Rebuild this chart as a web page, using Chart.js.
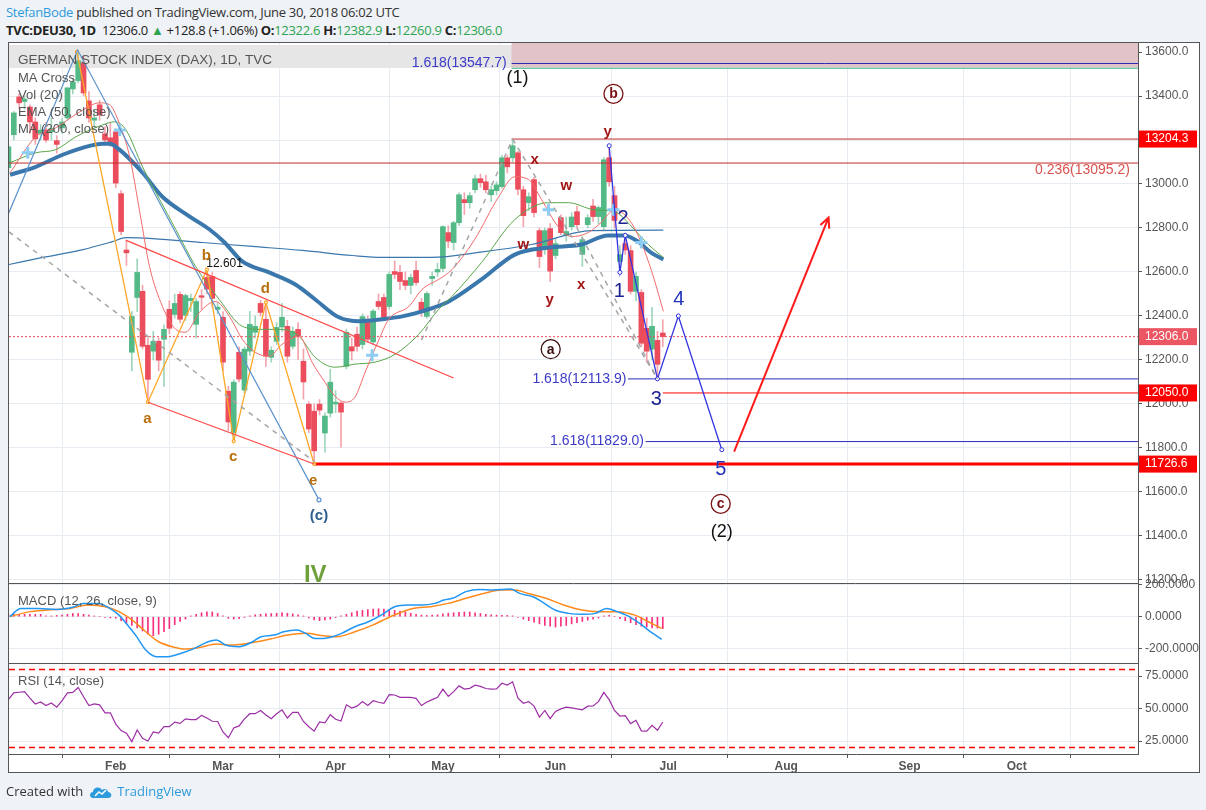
<!DOCTYPE html>
<html lang="en">
<head>
<meta charset="utf-8">
<title>DEU30 1D - StefanBode</title>
<script src="https://cdn.jsdelivr.net/npm/chart.js@4.4.1/dist/chart.umd.min.js"></script>
<style>
  html, body { margin: 0; padding: 0; }
  body { background: #eff2f6; width: 1206px; height: 810px; overflow: hidden; position: relative;
         font-family: "Open Sans", "Liberation Sans", sans-serif; }
  #chart { position: absolute; left: 0; top: 0; }
  .top1 { position: absolute; left: 6px; top: 3px; font-size: 13px; letter-spacing: -0.3px; color: #333; white-space: nowrap; }
  .top2 { position: absolute; left: 6px; top: 21px; font-size: 13px; letter-spacing: -0.3px; color: #222; white-space: nowrap; }
  .user { color: #2e9bdc; }
  .g { color: #2ea44f; }
  .foot { position: absolute; left: 6px; top: 782px; font-size: 13px; color: #333; white-space: nowrap; }
  .foot svg { vertical-align: -3px; margin: 0 4px 0 6px; }
  .tv { color: #2e9bdc; }
</style>
</head>
<body>
<div class="top1"><span class="user">StefanBode</span> published on TradingView.com, June 30, 2018 06:02 UTC</div>
<div class="top2"><b>TVC:DEU30, 1D</b>&nbsp; 12306.0 <span class="g">&#9650;</span> +128.8 (+1.06%) <b>O:</b><span class="g">12322.6</span> <b>H:</b><span class="g">12382.9</span> <b>L:</b><span class="g">12260.9</span> <b>C:</b><span class="g">12306.0</span></div>
<canvas id="chart" width="1206" height="810"></canvas>
<div class="foot">Created with<svg width="24" height="14" viewBox="0 0 24 14"><path d="M4 13 C0 13 0 7 4 7 C4 2 11 1 13 5 C15 3 19 4 19 7 C23 7 24 13 19 13 Z" fill="#2e9bdc"/><path d="M6 11 L10 7 L13 9 L17 5" stroke="#fff" stroke-width="1.5" fill="none"/></svg><span class="tv">TradingView</span></div>

<script>
// ---- data (bar 0 = Feb 1 2018, one bar per trading day) ----
var firstBar = -20;
var dates = ['Jan 4','Jan 5','Jan 8','Jan 9','Jan 10','Jan 11','Jan 12','Jan 15','Jan 16','Jan 17','Jan 18','Jan 19','Jan 22','Jan 23','Jan 24','Jan 25','Jan 26','Jan 29','Jan 30','Jan 31',
  'Feb 1','Feb 2','Feb 5','Feb 6','Feb 7','Feb 8','Feb 9','Feb 12','Feb 13','Feb 14','Feb 15','Feb 16','Feb 19','Feb 20','Feb 21','Feb 22','Feb 23','Feb 26','Feb 27','Feb 28',
  'Mar 1','Mar 2','Mar 5','Mar 6','Mar 7','Mar 8','Mar 9','Mar 12','Mar 13','Mar 14','Mar 15','Mar 16','Mar 19','Mar 20','Mar 21','Mar 22','Mar 23','Mar 26','Mar 27','Mar 28','Mar 29',
  'Apr 3','Apr 4','Apr 5','Apr 6','Apr 9','Apr 10','Apr 11','Apr 12','Apr 13','Apr 16','Apr 17','Apr 18','Apr 19','Apr 20','Apr 23','Apr 24','Apr 25','Apr 26','Apr 27','Apr 30',
  'May 2','May 3','May 4','May 7','May 8','May 9','May 10','May 11','May 14','May 15','May 16','May 17','May 18','May 22','May 23','May 24','May 25','May 28','May 29','May 30','May 31',
  'Jun 1','Jun 4','Jun 5','Jun 6','Jun 7','Jun 8','Jun 11','Jun 12','Jun 13','Jun 14','Jun 15','Jun 18','Jun 19','Jun 20','Jun 21','Jun 22','Jun 25','Jun 26','Jun 27','Jun 28','Jun 29'];

var opens = [13074,13224,13396,13375,13350,13282,13230,13246,13237,13197,13255,13300,13432,13470,13550,13378,13290,13360,13228,13210,
  13237,12956,12700,12235,12484,12512,12267,12240,12285,12294,12430,12407,12498,12403,12470,12362,12492,12575,12580,12430,
  12394,12058,11870,12235,12063,12240,12326,12457,12385,12212,12285,12350,12353,12262,12339,12194,11999,11967,11999,11868,11958,
  12000,12004,12171,12260,12317,12270,12376,12282,12466,12484,12443,12602,12598,12561,12539,12607,12462,12398,12570,12600,
  12616,12779,12734,12824,12929,12915,12974,13024,13010,12951,12970,12988,13119,13119,13142,12974,12915,13020,12788,12702,12797,
  12675,12847,12766,12806,12874,12680,12815,12900,12852,12806,13119,12947,12648,12729,12697,12512,12507,12344,12249,12289,12322.6];
var highs = [13180,13330,13410,13400,13360,13300,13270,13280,13300,13220,13300,13440,13480,13600,13580,13420,13340,13380,13260,13280,
  13250,12970,12740,12420,12660,12540,12300,12330,12300,12360,12470,12500,12510,12500,12500,12480,12520,12611,12600,12460,
  12420,12080,12110,12260,12260,12421,12400,12470,12462,12260,12370,12457,12380,12350,12370,12250,12010,12000,12020,11960,12158,
  12060,12010,12340,12300,12350,12410,12400,12430,12500,12500,12600,12650,12630,12600,12590,12650,12480,12510,12600,12640,
  12810,12810,12830,12960,12960,12960,13040,13045,13040,12990,13010,13130,13130,13204,13150,12990,12960,13030,12800,12800,12820,
  12750,12860,12850,12870,12900,12760,12860,12930,12900,13120,13178,12990,12720,12766,12720,12600,12520,12390,12439,12330,12382.9];
var lows = [13050,13200,13340,13340,13230,13180,13200,13190,13200,13140,13230,13290,13410,13460,13400,13280,13260,13290,13180,13170,
  12983,12770,12630,12150,12420,12250,12008,12200,12150,12080,12320,12390,12370,12380,12420,12300,12430,12500,12440,12410,
  12150,11877,11831,12100,12050,12220,12300,12400,12171,12190,12270,12330,12190,12250,12203,12022,11870,11727,11950,11781,11940,
  11960,11804,12160,12200,12240,12250,12280,12270,12430,12380,12430,12570,12520,12520,12500,12540,12398,12390,12540,12580,
  12600,12711,12700,12810,12861,12890,12960,12985,12960,12920,12950,12980,13050,13100,12950,12806,12880,12850,12620,12680,12557,
  12660,12770,12740,12790,12800,12625,12800,12830,12820,12790,12990,12800,12598,12680,12500,12470,12260,12190,12200,12114,12260.9];
var closes = [13169,13323,13369,13386,13282,13205,13245,13200,13252,13180,13282,13437,13464,13560,13414,13300,13300,13314,13200,13189,
  13004,12784,12687,12398,12598,12262,12112,12285,12199,12339,12344,12457,12385,12493,12480,12466,12485,12522,12480,12440,
  12190,11918,12099,12113,12249,12362,12353,12416,12217,12244,12348,12394,12217,12330,12309,12100,11886,11787,11972,11945,12099,
  12008,11963,12326,12241,12262,12397,12294,12422,12443,12394,12589,12589,12557,12539,12575,12552,12421,12502,12580,12611,
  12806,12740,12824,12951,12915,12947,13024,13006,12974,12974,12996,13119,13078,13174,12976,12856,12942,12870,12670,12788,12604,
  12729,12779,12784,12850,12815,12747,12847,12852,12893,13110,13010,12834,12679,12700,12512,12580,12276,12240,12353,12180,12306.0];

// moving averages: [bar, price]
var maFast = [[-19.7,13051],[-14.9,13215],[-11.2,13255],[-6.7,13328],[-3.0,13369],[-1.1,13360],[0.4,13292],[2.6,13124],[4.5,12870],[6.3,12625],[8.7,12444],[11.2,12339],[13.0,12326],[15.6,12416],[18.6,12466],[21.2,12398],[23.6,12294],[26.0,12235],[28.6,12217],[31.0,12271],[34.2,12307],[36.6,12190],[39.0,12099],[40.9,12035],[42.8,12008],[44.6,12031],[46.5,12144],[49.1,12294],[50.9,12385],[54.7,12444],[57.1,12521],[60.2,12566],[62.7,12611],[66.9,12747],[71.4,12942],[74.4,13033],[77.0,13020],[79.4,12929],[82.5,12806],[85.0,12761],[88.1,12779],[90.5,12825],[93.0,12883],[96.1,12825],[98.5,12702],[100.4,12566],[102.1,12421]];
var emaMid = [[-19.7,13097],[-14.9,13142],[-11.2,13156],[-7.4,13215],[-2.4,13269],[-0.2,13283],[1.9,13246],[5.0,13078],[8.2,12929],[11.2,12793],[14.9,12625],[19.3,12475],[23.6,12353],[27.3,12339],[31.0,12339],[34.2,12307],[37.2,12212],[40.9,12167],[44.6,12181],[48.3,12190],[52.1,12226],[56.5,12317],[60.2,12430],[62.7,12489],[68.2,12643],[74.4,12838],[80.7,12915],[84.4,12915],[89.2,12883],[93.0,12874],[96.7,12793],[99.3,12725],[102.1,12666]];
var ma50 = [[-19.7,13042],[-14.9,13078],[-9.9,13133],[-5.6,13169],[-2.4,13183],[-1.1,13183],[0.7,13156],[5.0,13051],[8.7,12942],[13.8,12852],[17.5,12793],[20.3,12734],[23.6,12648],[28.6,12598],[33.5,12543],[37.2,12475],[41.6,12394],[45.4,12376],[49.6,12385],[53.4,12398],[57.1,12421],[62.1,12466],[68.2,12566],[74.4,12679],[80.7,12711],[86.8,12725],[91.8,12766],[94.8,12766],[97.4,12738],[99.8,12688],[102.1,12657]];
var ma200 = [[-19.9,12634],[-13.6,12666],[-6.1,12702],[-0.6,12738],[1.9,12756],[6.9,12752],[16.2,12734],[25.5,12716],[34.8,12698],[44.1,12675],[49.6,12666],[58.9,12666],[68,12690],[77.5,12725],[88.7,12788],[102.1,12790]];
var maCrosses = [[-16.4,13142],[0.74,13246],[47.8,12221],[80.7,12883],[92.8,12883],[98.0,12734]];

// MACD (12, 26, close, 9)
var macdLine = [[-19.75,0],[-17.7,52],[-14.4,52],[-11,46],[-7.7,63],[-6.1,84],[-3.2,84],[-1.1,52],[0.6,10],[2.2,-52],[3.9,-126],[5.6,-210],[7.6,-252],[9.7,-252],[12.2,-231],[14.7,-200],[17.2,-158],[18.8,-147],[20.5,-179],[23,-189],[25.5,-158],[27.1,-126],[29.6,-116],[31.3,-95],[33.8,-84],[35.4,-105],[37.1,-137],[38.8,-137],[40.4,-126],[42.1,-105],[44.6,-63],[47.1,-32],[49.5,10],[52,63],[54.5,74],[57,74],[59.5,84],[61.2,105],[62.8,116],[65.3,158],[67.8,172],[70.3,168],[73.6,174],[75.3,147],[77.8,126],[79.4,95],[81.9,42],[84.4,21],[86.9,15],[89.4,21],[91.5,52],[93.5,32],[95.2,10],[97.7,-42],[99.3,-84],[101.8,-143]];
var signalLine = [[-19.75,0],[-16,32],[-12.7,42],[-8.5,52],[-5.2,74],[-1.9,63],[0.6,32],[3.1,-21],[5.6,-95],[8,-158],[10.5,-189],[13,-204],[15.5,-195],[18.8,-172],[21.3,-179],[24.6,-168],[28.8,-141],[32.1,-116],[35.4,-105],[38.8,-120],[41.2,-126],[44.6,-95],[47.9,-53],[51.2,0],[55.4,52],[58.7,63],[62,84],[65.3,116],[68.6,147],[72,168],[74.4,168],[76.9,147],[80.2,116],[83.5,74],[86.9,42],[90.2,32],[93.5,32],[96.8,10],[99.3,-32],[101.8,-74]];
var macdHist = [15,15,15,15,15,15,15,5,5,8,10,15,20,20,15,10,5,0,-5,-8,
  -10,-25,-40,-55,-70,-90,-110,-120,-110,-95,-75,-50,-30,-15,5,15,25,30,30,20,
  5,-10,-15,-12,-5,5,12,15,18,20,22,25,22,18,12,5,-8,-20,-25,-20,-15,
  -5,5,15,25,35,40,45,48,50,48,45,40,35,30,22,15,10,8,10,12,
  18,22,25,28,30,30,25,20,15,12,10,8,8,5,-5,-15,-25,-35,-45,-55,-60,
  -65,-60,-55,-45,-38,-30,-22,-15,-8,5,8,0,-12,-25,-38,-50,-60,-65,-70,-72,-75];

// RSI (14, close)
var rsi = [57,62,62.5,63,58,53.5,55,52.3,54.3,51,56,62,62.4,66.2,59,52.3,53.5,52.8,46.7,46.7,
  38,33,31,24.5,33.5,27,25,32,31,36,36,39.5,38.5,42,41.5,41.5,44.7,42.7,40.2,40,
  32,27.5,35,36.6,42,46,46,48.5,45,42.2,46,49,42.7,47,47,40,36,32.6,39.6,39,45.2,
  41.7,40.4,52.8,50.3,51.8,55.3,52.3,56,54.8,54,60.6,60.4,58.6,58.6,58.5,57.8,52.3,55,56.8,58.6,
  64.9,59.3,63,67.4,64.9,65.5,67.9,67,65.4,64.9,65,69.4,68,70.5,58,54,55.3,51.8,43.4,48.5,42.2,
  47.7,49.7,51,50.5,49.7,49,51.8,52,55.3,62.4,56.8,48.5,44.2,44.5,38.4,40.9,32.8,32.6,37.1,33.3,39.6];

// axis ticks
var monthTicks = [{label:'Feb', bar:0},{label:'Mar', bar:20},{label:'Apr', bar:41},{label:'May', bar:61},{label:'Jun', bar:82},{label:'Jul', bar:103},{label:'Aug', bar:125},{label:'Sep', bar:148},{label:'Oct', bar:168}];
var priceTicks = [11200,11400,11600,11800,12000,12200,12400,12600,12800,13000,13200,13400,13600];
var macdTicks = [-200,0,200];
var rsiTicks = [25,50,75];
var rsiBands = [80,20];

// wave drawings: [bar, price]
var orangeWave = [[-7.25,13601],[6,12008],[17,12611],[22,11831],[28,12462],[37,11727]];
var channelTop = [[1.86,12745],[63,12118]];
var channelBottom = [[6,12008],[37,11727]];
var blueC = [[-22,12750],[-7.1,13609],[37.9,11564]];
var dashA = [[-19.9,12782],[37,11738]];
var dashB = [[57,12290],[74,13204]];
var dashC = [[74,13204],[101,12114]];
var dashD = [[86,12800],[101,12114]];
var impulse = [[92,13174],[94,12598],[95,12766],[101,12114],[104.9,12400],[113,11792]];
var arrowUp = [[115.3,11783],[132.9,12847]];

// horizontal levels: [startBar, price]
var fib236 = [-19.9, 13095.2];
var highLevel = [73.8, 13204.3];
var fibTop = [73.8, 13547.7];
var greenTop = [73.8, 13526];
var fib3 = [95.5, 12113.9];
var fib5 = [98.8, 11829.0];
var level12050 = [102, 12050.0];
var lowLevel = [37, 11726.6];
var lastClose = 12306.0;
var zoneTop = [73.8, 13530];

var xMin = -19.9, xMax = 190.6;

// ---- build datasets ----
function pts(arr) { return arr.map(function(p) { return {x: p[0], y: p[1]}; }); }
function hline(lv, color, width, dash) {
  return {type:'line', data:[{x:lv[0], y:lv[1]},{x:xMax, y:lv[1]}], borderColor:color, borderWidth:width||1,
    borderDash:dash||[], pointRadius:0, yAxisID:'y', order:12};
}
function drawLine(arr, color, width, dash, extra) {
  var d = {type:'line', data:pts(arr), borderColor:color, borderWidth:width, borderDash:dash||[], pointRadius:0,
    tension:0, yAxisID:'y', order:5};
  for (var k in extra) d[k] = extra[k];
  return d;
}
function maLine(arr, color, width, order) {
  return {type:'line', data:pts(arr), borderColor:color, borderWidth:width, pointRadius:0,
    cubicInterpolationMode:'monotone', yAxisID:'y', order:order};
}

var wicks = [], bodies = [], wickCol = [], bodyCol = [], histData = [], rsiData = [];
for (var i = 0; i < closes.length; i++) {
  var bx = firstBar + i;
  var up = closes[i] >= opens[i];
  wicks.push({x: bx, y: [lows[i], highs[i]]});
  bodies.push({x: bx, y: [opens[i], closes[i]]});
  wickCol.push(up ? '#9fd6bb' : '#f3a3ab');
  bodyCol.push(up ? '#53b987' : '#eb4d5c');
  histData.push({x: bx, y: macdHist[i]});
  rsiData.push({x: bx, y: rsi[i]});
}

var datasets = [
  {type:'bar', data:wicks, backgroundColor:wickCol, barThickness:1, grouped:false, yAxisID:'y', order:30},
  {type:'bar', data:bodies, backgroundColor:bodyCol, barThickness:5, grouped:false, minBarLength:1, yAxisID:'y', order:29},
  maLine(ma200, '#3a77ad', 1.2, 20),
  maLine(ma50, '#3a77ad', 4, 19),
  maLine(emaMid, '#5aa84a', 1, 18),
  maLine(maFast, '#f26b6b', 1, 17),
  {type:'line', data:pts(maCrosses), showLine:false, pointStyle:'cross', pointRadius:6, pointBorderWidth:3,
    pointBorderColor:'#8ecdf3', yAxisID:'y', order:16},
  hline([xMin, lastClose], '#eb4d5c', 1, [2, 2]),
  hline(fib236, '#c42b2b', 1),
  hline(highLevel, '#c42b2b', 1),
  hline(greenTop, '#3fbf8f', 1),
  hline(fibTop, '#2b2bb8', 1),
  hline(fib3, '#2b2bb8', 1),
  hline(fib5, '#2b2bb8', 1),
  hline(level12050, '#ff0000', 1),
  hline(lowLevel, '#ff0000', 3),
  drawLine(dashA, '#a5a5a5', 1.5, [5, 5]),
  drawLine(dashB, '#a5a5a5', 1.5, [5, 5]),
  drawLine(dashC, '#a5a5a5', 1.5, [5, 5]),
  drawLine(dashD, '#a5a5a5', 1.5, [5, 5]),
  drawLine(channelTop, '#ff4747', 1.2),
  drawLine(channelBottom, '#ff4747', 1.2),
  drawLine(blueC, '#5b93cc', 1.2, [], {pointRadius:[0,0,2], pointBackgroundColor:'#fff', pointBorderColor:'#5b93cc'}),
  drawLine(orangeWave, '#ffa726', 1.3, [], {pointRadius:1.5, pointBackgroundColor:'#fff', pointBorderColor:'#ffa726'}),
  drawLine(impulse, '#3434e0', 1.3, [], {pointRadius:2, pointBackgroundColor:'#fff', pointBorderColor:'#3434e0', pointBorderWidth:1}),
  drawLine(arrowUp, '#ff1a1a', 2),
  {type:'bar', data:histData, backgroundColor:'#f7307e', barThickness:1, grouped:false, yAxisID:'macd', order:8},
  {type:'line', data:pts(signalLine), borderColor:'#ff8a1c', borderWidth:1.5, pointRadius:0, cubicInterpolationMode:'monotone', yAxisID:'macd', order:7},
  {type:'line', data:pts(macdLine), borderColor:'#2196f3', borderWidth:1.5, pointRadius:0, cubicInterpolationMode:'monotone', yAxisID:'macd', order:6},
  {type:'line', data:rsiData, borderColor:'#9c2fa5', borderWidth:1.2, pointRadius:0, tension:0, yAxisID:'rsi', order:6},
  {type:'line', data:[{x:xMin, y:rsiBands[0]},{x:xMax, y:rsiBands[0]}], borderColor:'#ff0000', backgroundColor:'#ff0000', borderWidth:1.5, borderDash:[6,4], pointRadius:0, yAxisID:'rsi', order:4},
  {type:'line', data:[{x:xMin, y:rsiBands[1]},{x:xMax, y:rsiBands[1]}], borderColor:'#ff0000', backgroundColor:'#ff0000', borderWidth:1.5, borderDash:[6,4], pointRadius:0, yAxisID:'rsi', order:4}
];

// ---- text annotations ----
var LS = '"Liberation Sans", Arial, sans-serif';
var waveLabels = [
  {t:'(1)', bar:74.9, p:13482, c:'#111', f:'18px ' + LS},
  {t:'(2)', bar:113, p:11419, c:'#111', f:'18px ' + LS},
  {t:'y', bar:91.7, p:13237, c:'#a31515', f:'bold 15px ' + LS},
  {t:'x', bar:78.1, p:13110, c:'#a31515', f:'bold 15px ' + LS},
  {t:'w', bar:84.0, p:12992, c:'#a31515', f:'bold 15px ' + LS},
  {t:'w', bar:76.0, p:12725, c:'#a31515', f:'bold 15px ' + LS},
  {t:'y', bar:80.9, p:12475, c:'#a31515', f:'bold 15px ' + LS},
  {t:'x', bar:86.8, p:12543, c:'#a31515', f:'bold 15px ' + LS},
  {t:'2', bar:94.6, p:12843, c:'#1c2390', f:'20px ' + LS},
  {t:'1', bar:93.9, p:12512, c:'#1c2390', f:'20px ' + LS},
  {t:'3', bar:100.8, p:12022, c:'#1c2390', f:'20px ' + LS},
  {t:'4', bar:105.0, p:12475, c:'#2233bb', f:'20px ' + LS},
  {t:'5', bar:112.8, p:11704, c:'#2233bb', f:'20px ' + LS},
  {t:'(c)', bar:37.9, p:11491, c:'#2f5f8f', f:'bold 15px ' + LS},
  {t:'IV', bar:37.2, p:11219, c:'#6fa03c', f:'bold 24px ' + LS},
  {t:'12.601', bar:20.3, p:12639, c:'#111', f:'12px ' + LS},
  {t:'a', bar:5.9, p:11931, c:'#b8700f', f:'bold 15px ' + LS},
  {t:'b', bar:16.9, p:12675, c:'#b8700f', f:'bold 15px ' + LS},
  {t:'c', bar:21.9, p:11759, c:'#b8700f', f:'bold 15px ' + LS},
  {t:'d', bar:27.9, p:12525, c:'#b8700f', f:'bold 15px ' + LS},
  {t:'e', bar:36.8, p:11650, c:'#b8700f', f:'bold 15px ' + LS}
];
var circled = [
  {t:'b', bar:92.8, p:13410, c:'#7a1313'},
  {t:'a', bar:81.1, p:12249, c:'#3a1111'},
  {t:'c', bar:112.8, p:11546, c:'#7a1313'}
];
var fibTexts = [
  {t:'1.618(13547.7)', bar:72.9, p:13547.7, c:'#3b3bc8'},
  {t:'1.618(12113.9)', bar:95.2, p:12113.9, c:'#3b3bc8'},
  {t:'1.618(11829.0)', bar:98.5, p:11829.0, c:'#3b3bc8'},
  {t:'0.236(13095.2)', bar:189.1, p:13063, c:'#d9534f'}
];
var axisMarks = [
  {p:13204.3, bg:'#ff0000'},
  {p:12306.0, bg:'#ec5663'},
  {p:12050.0, bg:'#ff0000'},
  {p:11726.6, bg:'#ff0000'}
];
var legendLines = ['MA Cross', 'Vol (20)', 'EMA (50, close)', 'MA (200, close)'];

var annoPlugin = {
  id: 'anno',
  beforeDraw: function(chart) {
    var ctx = chart.ctx, ca = chart.chartArea;
    ctx.save();
    ctx.fillStyle = '#ffffff';
    ctx.fillRect(ca.left, ca.top, chart.scales.y.right - ca.left, chart.scales.x.bottom - ca.top);
    ctx.restore();
  },
  beforeDatasetsDraw: function(chart) {
    var ctx = chart.ctx, ca = chart.chartArea, sx = chart.scales.x, sy = chart.scales.y;
    ctx.save();
    ctx.fillStyle = '#e6e6e6';
    ctx.fillRect(ca.left, sy.top + 2, ca.width, 23);
    var zx = sx.getPixelForValue(zoneTop[0]);
    ctx.fillStyle = '#e2c4c8';
    ctx.fillRect(zx, sy.top, ca.right - zx, sy.getPixelForValue(zoneTop[1]) - sy.top);
    ctx.restore();
  },
  afterDatasetsDraw: function(chart) {
    var ctx = chart.ctx, ca = chart.chartArea, sx = chart.scales.x, sy = chart.scales.y;
    ctx.save();
    ctx.beginPath();
    ctx.rect(ca.left, sy.top, ca.width, sy.bottom - sy.top);
    ctx.clip();
    // arrow head
    var a0 = arrowUp[0], a1 = arrowUp[1];
    var x0 = sx.getPixelForValue(a0[0]), y0 = sy.getPixelForValue(a0[1]);
    var x1 = sx.getPixelForValue(a1[0]), y1 = sy.getPixelForValue(a1[1]);
    var ang = Math.atan2(y1 - y0, x1 - x0);
    ctx.strokeStyle = '#ff1a1a'; ctx.lineWidth = 2;
    ctx.beginPath();
    ctx.moveTo(x1 - 11 * Math.cos(ang - 0.45), y1 - 11 * Math.sin(ang - 0.45));
    ctx.lineTo(x1, y1);
    ctx.lineTo(x1 - 11 * Math.cos(ang + 0.45), y1 - 11 * Math.sin(ang + 0.45));
    ctx.stroke();

    ctx.textAlign = 'center'; ctx.textBaseline = 'middle';
    waveLabels.forEach(function(l) {
      ctx.font = l.f; ctx.fillStyle = l.c;
      ctx.fillText(l.t, sx.getPixelForValue(l.bar), sy.getPixelForValue(l.p));
    });
    circled.forEach(function(l) {
      var cx = sx.getPixelForValue(l.bar), cy = sy.getPixelForValue(l.p);
      ctx.beginPath(); ctx.arc(cx, cy, 9.5, 0, Math.PI * 2);
      ctx.fillStyle = '#fff'; ctx.fill();
      ctx.lineWidth = 1.3; ctx.strokeStyle = l.c; ctx.stroke();
      ctx.font = 'bold 14px ' + LS; ctx.fillStyle = l.c;
      ctx.fillText(l.t, cx, cy + 0.5);
    });
    ctx.textAlign = 'right';
    ctx.font = '14px ' + LS;
    fibTexts.forEach(function(l) {
      ctx.fillStyle = l.c;
      ctx.fillText(l.t, sx.getPixelForValue(l.bar), sy.getPixelForValue(l.p));
    });
    ctx.textAlign = 'left';
    ctx.fillStyle = '#555';
    ctx.font = '13.5px ' + LS;
    ctx.fillText('GERMAN STOCK INDEX (DAX), 1D, TVC', ca.left + 9, sy.top + 17);
    ctx.font = '13px ' + LS;
    legendLines.forEach(function(t, k) { ctx.fillText(t, ca.left + 9, sy.top + 35 + k * 17); });
    ctx.restore();

    ctx.save();
    ctx.textAlign = 'left'; ctx.textBaseline = 'middle';
    ctx.fillStyle = '#555'; ctx.font = '13px ' + LS;
    ctx.fillText('MACD (12, 26, close, 9)', ca.left + 9, chart.scales.macd.top + 18);
    ctx.fillText('RSI (14, close)', ca.left + 9, chart.scales.rsi.top + 18);
    ctx.restore();
  },
  afterDraw: function(chart) {
    var ctx = chart.ctx, ca = chart.chartArea, sy = chart.scales.y;
    ctx.save();
    ctx.strokeStyle = '#555'; ctx.lineWidth = 1;
    ctx.beginPath();
    ctx.moveTo(ca.left, Math.round(sy.bottom) + 0.5); ctx.lineTo(ca.right, Math.round(sy.bottom) + 0.5);
    ctx.moveTo(ca.left, Math.round(chart.scales.macd.bottom) + 0.5); ctx.lineTo(ca.right, Math.round(chart.scales.macd.bottom) + 0.5);
    ctx.stroke();
    ctx.strokeRect(ca.left - 0.5, ca.top - 0.5, sy.right - ca.left, chart.scales.x.bottom - ca.top);
    ctx.font = '12px ' + LS; ctx.textAlign = 'left'; ctx.textBaseline = 'middle';
    axisMarks.forEach(function(m) {
      var yy = sy.getPixelForValue(m.p);
      ctx.fillStyle = m.bg;
      ctx.fillRect(ca.right + 1, yy - 8.5, 58, 17);
      ctx.fillStyle = '#fff';
      ctx.fillText(m.p.toFixed(1), ca.right + 7, yy);
    });
    ctx.restore();
  }
};

function fixWidth(s) { s.width = 62; }
function yAxis(extra) {
  var base = {
    type: 'linear', position: 'right', stack: 'panes', bounds: 'data',
    afterFit: fixWidth,
    border: {color: '#555'},
    grid: {color: '#e6ecf2', tickColor: '#555', tickLength: 4},
    ticks: {color: '#555', padding: 3, font: {size: 12}}
  };
  for (var k in extra) base[k] = extra[k];
  return base;
}

Chart.defaults.font.family = LS;

new Chart(document.getElementById('chart'), {
  type: 'line',
  data: {datasets: datasets},
  options: {
    responsive: false,
    animation: false,
    events: [],
    layout: {padding: {left: 6, top: 43, right: 6, bottom: 37}},
    plugins: {legend: {display: false}, tooltip: {enabled: false}},
    scales: {
      x: {
        type: 'linear', min: xMin, max: xMax, bounds: 'data', offset: false,
        afterBuildTicks: function(s) { s.ticks = monthTicks.map(function(m) { return {value: m.bar}; }); },
        afterFit: function(s) { s.height = 19; },
        border: {color: '#555'},
        grid: {color: '#e6ecf2', tickColor: '#555', tickLength: 4},
        ticks: {color: '#555', font: {size: 12, weight: 'bold'}, padding: 1, maxRotation: 0, autoSkip: false,
          callback: function(v, i) { return monthTicks[i] ? monthTicks[i].label : ''; }}
      },
      y: yAxis({min: 11186, max: 13641, stackWeight: 540,
        afterBuildTicks: function(s) { s.ticks = priceTicks.map(function(v) { return {value: v}; }); },
        ticks: {color: '#555', padding: 3, font: {size: 12}, callback: function(v) { return v.toFixed(1); }}}),
      macd: yAxis({min: -292, max: 212.6, stackWeight: 80,
        afterBuildTicks: function(s) { s.ticks = macdTicks.map(function(v) { return {value: v}; }); },
        ticks: {color: '#555', padding: 3, font: {size: 12}, callback: function(v) { return v.toFixed(4); }}}),
      rsi: yAxis({min: 15, max: 85, stackWeight: 91,
        afterBuildTicks: function(s) { s.ticks = rsiTicks.map(function(v) { return {value: v}; }); },
        ticks: {color: '#555', padding: 3, font: {size: 12}, callback: function(v) { return v.toFixed(4); }}})
    }
  },
  plugins: [annoPlugin]
});
</script>
</body>
</html>
